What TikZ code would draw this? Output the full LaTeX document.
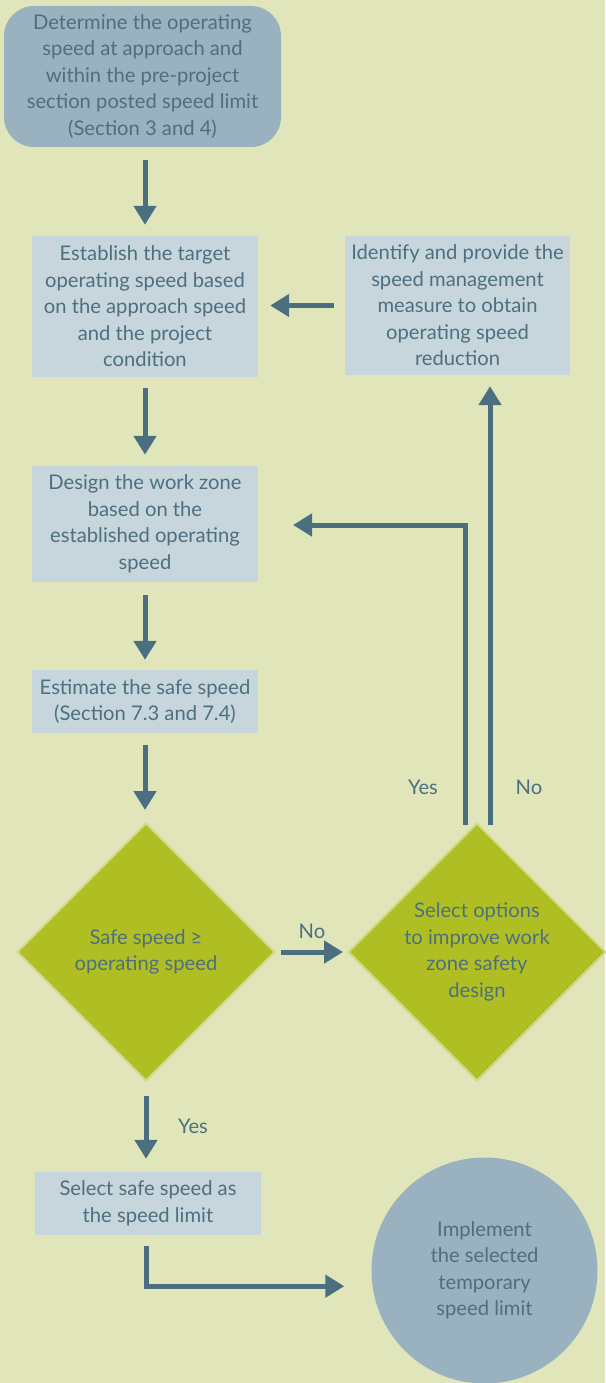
\documentclass[tikz,border=0pt]{standalone}
\usepackage{fontspec}
\setmainfont{Lato}
\usetikzlibrary{shapes.geometric,arrows.meta}
\definecolor{bgc}{HTML}{E0E6BA}
\definecolor{boxc}{HTML}{C6D6DC}
\definecolor{darkc}{HTML}{9AB1BF}
\definecolor{diac}{HTML}{AFBF23}
\definecolor{diaedge}{HTML}{D0DB8E}
\definecolor{arrc}{HTML}{4B6F81}
\definecolor{txtc}{HTML}{4E6F7F}
\tikzset{
  lbl/.style={text=txtc,font=\fontsize{20.2}{26.5}\selectfont,align=center},
  box/.style={lbl,fill=boxc,inner sep=0pt},
  topbox/.style={lbl,fill=darkc,rounded corners=30pt,inner sep=0pt},
  dia/.style={lbl,diamond,fill=diac,draw=diaedge,line width=2pt,inner sep=0pt,minimum width=258pt,minimum height=258pt},
  endc/.style={lbl,circle,fill=darkc,inner sep=0pt,minimum size=226pt},
  arr/.style={draw=arrc,line width=5pt,-{Triangle[width=22pt,length=19pt]}},
}
\begin{document}
\begin{tikzpicture}[x=1pt,y=-1pt]
\fill[bgc] (0,0) rectangle (605,1383);
\useasboundingbox (0,0) rectangle (605,1383);

\node[topbox,minimum width=277pt,minimum height=141pt] (top) at (142.5,76.5)
  {Determine the operating\\speed at approach and\\within the pre-project\\section posted speed limit\\(Section 3 and 4)};
\node[box,minimum width=226pt,minimum height=141pt] (est) at (145,306.5)
  {Establish the target\\operating speed based\\on the approach speed\\and the project\\condition};
\node[box,minimum width=225pt,minimum height=139pt] (idf) at (457.5,305.5)
  {Identify and provide the\\speed management\\measure to obtain\\operating speed\\reduction};
\node[box,minimum width=226pt,minimum height=116pt] (des) at (145,524)
  {Design the work zone\\based on the\\established operating\\speed};
\node[box,minimum width=226pt,minimum height=63pt] (esf) at (145,701.5)
  {Estimate the safe speed\\(Section 7.3 and 7.4)};
\node[dia] (d1) at (146,952) {Safe speed \char"2265\\operating speed};
\node[dia] (d2) at (477,952) {Select options\\to improve work\\zone safety\\design};
\node[box,minimum width=226pt,minimum height=63pt] (sel) at (148,1203.5)
  {Select safe speed as\\the speed limit};
\node[endc] (imp) at (484.5,1270.5) {Implement\\the selected\\temporary\\speed limit};

% connectors
\draw[arr] ([yshift=-13pt]top.south -| est.north) -- ([yshift=11pt]est.north);
\draw[arr] ([yshift=-11pt]est.south) -- ([yshift=11pt]des.north);
\draw[arr] ([yshift=-13pt]des.south) -- ([yshift=10pt]esf.north);
\draw[arr] ([yshift=-12pt]esf.south) -- ([yshift=12pt]esf.south |- d1.north);
\draw[arr] ([xshift=-11pt]idf.west) -- ([xshift=12pt]est.east |- idf.west);
\draw[arr] ([xshift=5pt]d1.east) -- node[lbl,above=8pt] {No} ([xshift=-4pt]d2.west);

\coordinate (yesA) at ([xshift=-12pt,yshift=-3pt]d2.north);
\coordinate (noA) at ([xshift=13pt,yshift=-3pt]d2.north);
\draw[arr] (yesA) -- (yesA |- 0,525) -- (293,525);
\draw[arr] (noA) -- ([yshift=-11pt]noA |- idf.south);
\node[lbl] (yes1) at (423,787) {Yes};
\node[lbl] (no1) at (529,787) {No};

\draw[arr] ([yshift=-14pt]d1.south) -- ([yshift=13pt]d1.south |- sel.north);
\node[lbl] (yes2) at (193,1126) {Yes};
\coordinate (bend) at ([yshift=-51pt]sel.south -| d1.south);
\draw[arr] ([yshift=-11pt]sel.south -| d1.south) -- (bend) -- ([xshift=-27pt]bend -| imp.west);
\end{tikzpicture}
\end{document}
